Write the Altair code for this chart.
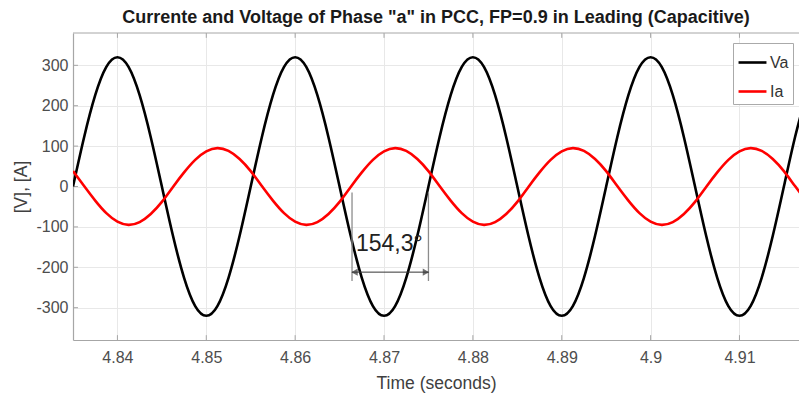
import altair as alt
import pandas as pd

# Sampling grid (seconds)
t_start = 4.835
t_step = 0.00125
n_samples = 67
time_s = [round(t_start + t_step * i, 6) for i in range(n_samples)]

# Phase "a" voltage at PCC (V)
va_values = [0, 122, 226, 296, 320, 296, 226, 122, 0, -122, -226, -296, -320, -296, -226, -122,
             0, 122, 226, 296, 320, 296, 226, 122, 0, -122, -226, -296, -320, -296, -226, -122,
             0, 122, 226, 296, 320, 296, 226, 122, 0, -122, -226, -296, -320, -296, -226, -122,
             0, 122, 226, 296, 320, 296, 226, 122, 0, -122, -226, -296, -320, -296, -226, -122,
             0, 122, 226]

# Phase "a" current at PCC (A)
ia_values = [38, 1, -35, -66, -87, -95, -88, -68, -38, -1, 35, 66, 87, 95, 88, 68,
             38, 1, -35, -66, -87, -95, -88, -68, -38, -1, 35, 66, 87, 95, 88, 68,
             38, 1, -35, -66, -87, -95, -88, -68, -38, -1, 35, 66, 87, 95, 88, 68,
             38, 1, -35, -66, -87, -95, -88, -68, -38, -1, 35, 66, 87, 95, 88, 68,
             38, 1, -35]

series_names = ["Va", "Ia"]
series_colors = ["#000000", "#ff0000"]

x_domain = [4.835, 4.9167]
y_domain = [-380, 380]
x_ticks = [4.84, 4.85, 4.86, 4.87, 4.88, 4.89, 4.9, 4.91]
y_ticks = [-300, -200, -100, 0, 100, 200, 300]

# Phase-shift annotation
ann_t = [4.8664, 4.875]
ann_top = -15
ann_bottom = -234
ann_arrow_y = -212
ann_text = "154,3°"
ann_text_pos = (4.8706, -142)

df = pd.DataFrame({
    "t": time_s * 2,
    "v": va_values + ia_values,
    "s": ["Va"] * n_samples + ["Ia"] * n_samples,
})

x_scale = alt.Scale(domain=x_domain, nice=False, zero=False)
y_scale = alt.Scale(domain=y_domain, nice=False)

lines = alt.Chart(df).mark_line(interpolate="natural", strokeWidth=2.6, clip=True).encode(
    x=alt.X("t:Q", scale=x_scale,
            axis=alt.Axis(title="Time (seconds)", values=x_ticks, labelExpr="datum.value + ''",
                          grid=True, ticks=False, labelPadding=9, titlePadding=9)),
    y=alt.Y("v:Q", scale=y_scale,
            axis=alt.Axis(title="[V], [A]", values=y_ticks, labelExpr="datum.value + ''",
                          grid=True, ticks=False, labelPadding=5, titlePadding=5)),
    color=alt.Color("s:N", scale=alt.Scale(domain=series_names, range=series_colors),
                    sort=series_names,
                    legend=alt.Legend(title=None, orient="none", legendX=660, legendY=10,
                                      symbolType="stroke", symbolSize=780, symbolStrokeWidth=2.6,
                                      labelFontSize=16, labelColor="#333333", labelFont="Liberation Sans",
                                      strokeColor="#aaaaaa", fillColor="white", padding=4,
                                      rowPadding=5, labelOffset=2)),
)

top_border = alt.Chart(pd.DataFrame({"y": [y_domain[1]]})).mark_rule(color="#a6a6a6", strokeWidth=1).encode(
    y=alt.Y("y:Q", scale=y_scale)
)

# Inward tick marks (MATLAB style)
tick_len_y = 12
tick_len_x = 0.00056
xt_df = pd.DataFrame({"t": x_ticks * 2,
                      "y1": [y_domain[0]] * len(x_ticks) + [y_domain[1]] * len(x_ticks),
                      "y2": [y_domain[0] + tick_len_y] * len(x_ticks) + [y_domain[1] - tick_len_y] * len(x_ticks)})
xticks_in = alt.Chart(xt_df).mark_rule(color="#a6a6a6", strokeWidth=1).encode(
    x=alt.X("t:Q", scale=x_scale), y=alt.Y("y1:Q", scale=y_scale), y2="y2:Q"
)
yt_df = pd.DataFrame({"y": y_ticks, "t1": [x_domain[0]] * len(y_ticks),
                      "t2": [x_domain[0] + tick_len_x] * len(y_ticks)})
yticks_in = alt.Chart(yt_df).mark_rule(color="#a6a6a6", strokeWidth=1).encode(
    x=alt.X("t1:Q", scale=x_scale), x2="t2:Q", y=alt.Y("y:Q", scale=y_scale)
)

vlines_df = pd.DataFrame({"t": ann_t, "y1": [ann_top, ann_top], "y2": [ann_bottom, ann_bottom]})
vlines = alt.Chart(vlines_df).mark_rule(color="#8c8c8c", strokeWidth=1.3).encode(
    x=alt.X("t:Q", scale=x_scale), y=alt.Y("y1:Q", scale=y_scale), y2="y2:Q"
)

arrow_df = pd.DataFrame({"t1": [ann_t[0]], "t2": [ann_t[1]], "y": [ann_arrow_y]})
arrow = alt.Chart(arrow_df).mark_rule(color="#333333", strokeWidth=1).encode(
    x=alt.X("t1:Q", scale=x_scale), x2="t2:Q", y=alt.Y("y:Q", scale=y_scale)
)

heads_df = pd.DataFrame({"t": [ann_t[0] + 0.0004, ann_t[1] - 0.0004], "y": [ann_arrow_y, ann_arrow_y],
                         "ang": [270, 90]})
heads = alt.Chart(heads_df).mark_point(shape="triangle", filled=True, size=55, color="#333333").encode(
    x=alt.X("t:Q", scale=x_scale), y=alt.Y("y:Q", scale=y_scale), angle=alt.Angle("ang:Q", scale=None)
)

label = alt.Chart(pd.DataFrame({"t": [ann_text_pos[0]], "y": [ann_text_pos[1]], "txt": [ann_text]})).mark_text(
    fontSize=23, font="Liberation Sans", color="#222222", align="center", baseline="middle"
).encode(x=alt.X("t:Q", scale=x_scale), y=alt.Y("y:Q", scale=y_scale), text="txt:N")

chart = alt.layer(top_border, xticks_in, yticks_in, lines, vlines, arrow, heads, label).properties(
    width=726, height=307,
    autosize=alt.AutoSizeParams(type="none"),
    padding={"left": 73, "top": 33, "right": 0, "bottom": 56},
    title=alt.TitleParams(
        text='Currente and Voltage of Phase "a" in PCC, FP=0.9 in Leading (Capacitive)',
        fontSize=18, font="Liberation Sans", fontWeight="bold", color="#1a1a1a",
        anchor="middle", offset=6,
    ),
).configure_view(stroke=None).configure_axis(
    labelFont="Liberation Sans", labelFontSize=16, labelColor="#4d4d4d",
    titleFont="Liberation Sans", titleFontSize=17.5, titleColor="#404040", titleFontWeight="normal",
    gridColor="#e8e8e8", domainColor="#a6a6a6", domainWidth=1.2,
)

chart.save("out.html", embed_options={"renderer": "svg", "actions": False})
